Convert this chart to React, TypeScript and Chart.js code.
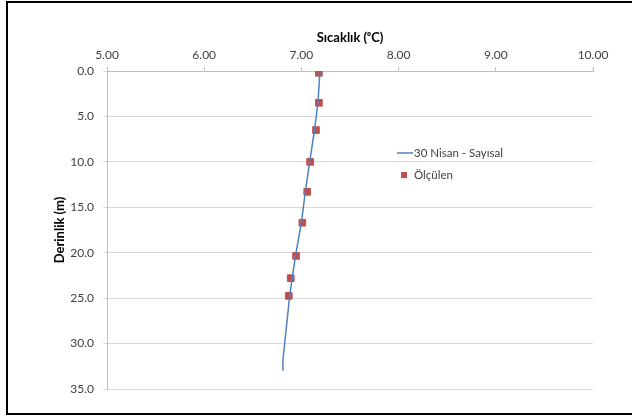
import React, { useEffect, useRef } from "react";
import { Chart, registerables } from "chart.js";

Chart.register(...registerables);

const xTitle = "Sıcaklık (ᵒC)";
const yTitle = "Derinlik (m)";
const lineLabel = "30 Nisan - Sayısal";
const measLabel = "Ölçülen";

const lineTemp = [7.19, 7.185, 7.17, 7.135, 7.085, 7.04, 7.0, 6.94, 6.905, 6.88, 6.81, 6.81];
const lineDepth = [0, 1, 3.5, 6.5, 10, 13.3, 16.7, 20.3, 22.8, 24.7, 31.8, 33.0];
const measTemp = [7.18, 7.18, 7.15, 7.09, 7.06, 7.01, 6.945, 6.89, 6.87];
const measDepth = [0.2, 3.5, 6.5, 10.0, 13.3, 16.7, 20.35, 22.8, 24.75];

const lineColor = "#4F81BD";
const measColor = "#C0504D";
const FONT = "Lato, 'Open Sans', sans-serif";

const legendPlugin = {
  id: "customLegend",
  afterDraw(chart: any) {
    const ctx = chart.ctx;
    const ds = chart.data.datasets;
    const x0 = chart.chartArea.left + 290;
    const y0 = chart.chartArea.top + 82;
    ctx.save();
    ctx.font = `11.5px ${FONT}`;
    ctx.fillStyle = "#404040";
    ctx.textBaseline = "middle";
    ctx.textAlign = "left";
    ctx.strokeStyle = ds[0].borderColor;
    ctx.lineWidth = 1.5;
    ctx.beginPath();
    ctx.moveTo(x0, y0);
    ctx.lineTo(x0 + 16, y0);
    ctx.stroke();
    ctx.fillText(ds[0].label, x0 + 17, y0);
    const y1 = y0 + 22;
    ctx.fillStyle = ds[1].backgroundColor;
    ctx.fillRect(x0 + 4, y1 - 3, 6, 6);
    ctx.fillStyle = "#404040";
    ctx.fillText(ds[1].label, x0 + 17, y1);
    ctx.restore();
  },
};

export default function App() {
  const ref = useRef<HTMLCanvasElement>(null);
  useEffect(() => {
    if (!ref.current) return;
    const chart = new Chart(ref.current, {
      type: "scatter",
      data: {
        datasets: [
          {
            label: lineLabel,
            data: lineTemp.map((t, i) => ({ x: t, y: lineDepth[i] })),
            showLine: true,
            borderColor: lineColor,
            backgroundColor: lineColor,
            borderWidth: 1.5,
            pointRadius: 0,
            tension: 0,
          },
          {
            label: measLabel,
            data: measTemp.map((t, i) => ({ x: t, y: measDepth[i] })),
            pointStyle: "rect",
            pointRadius: 4.7,
            borderWidth: 1,
            borderColor: measColor,
            backgroundColor: measColor,
          },
        ],
      },
      options: {
        animation: false,
        responsive: false,
        layout: { padding: { left: 0, top: 0, right: 39, bottom: 27 } },
        plugins: { legend: { display: false }, tooltip: { enabled: false } },
        scales: {
          x: {
            type: "linear",
            position: "top",
            min: 5,
            max: 10,
            ticks: {
              stepSize: 1,
              callback: (v: any) => Number(v).toFixed(2),
              color: "#404040",
              font: { family: FONT, size: 12 },
              padding: 5,
            },
            grid: { drawOnChartArea: false, drawTicks: true, tickLength: 4, color: "#bfbfbf" },
            border: { display: true, color: "#bfbfbf" },
            title: {
              display: true,
              text: xTitle,
              color: "#000",
              font: { family: FONT, size: 13, weight: "bold" },
              padding: { top: 30, bottom: 0 },
            },
            afterFit: (s: any) => {
              s.height = 71;
            },
          },
          y: {
            type: "linear",
            reverse: true,
            min: 0,
            max: 35,
            ticks: {
              stepSize: 5,
              callback: (v: any) => Number(v).toFixed(1),
              color: "#404040",
              font: { family: FONT, size: 12 },
              padding: 9,
            },
            grid: { color: "#d9d9d9", tickLength: 4, lineWidth: 1 },
            border: { display: true, color: "#bfbfbf" },
            title: {
              display: true,
              text: yTitle,
              color: "#000",
              font: { family: FONT, size: 13, weight: "bold" },
              padding: { top: 52, bottom: 0 },
            },
            afterFit: (s: any) => {
              s.width = 107;
            },
          },
        },
      },
      plugins: [legendPlugin],
    } as any);
    return () => chart.destroy();
  }, []);
  return (
    <div style={{ position: "fixed", left: 0, top: 0, width: 632, height: 416, overflow: "hidden", background: "#fff" }}>
      <canvas ref={ref} width={632} height={416} style={{ position: "absolute", left: 0, top: 0 }} />
      <div
        style={{
          position: "absolute",
          left: 6,
          top: 1,
          width: 700,
          height: 410,
          border: "2px solid #000",
          pointerEvents: "none",
        }}
      />
    </div>
  );
}
